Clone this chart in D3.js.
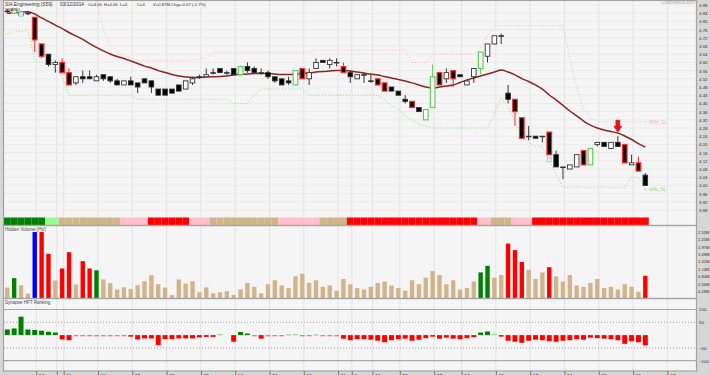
<!DOCTYPE html>
<html>
<head>
<meta charset="utf-8">
<script src="https://cdn.jsdelivr.net/npm/d3@7"></script>
<style>
	body { margin: 0; background: #d6d6d6; }
	svg { display: block; font-family: 'Liberation Sans', Arial, sans-serif; }
</style>
</head>
<body>
<div id="chart"></div>
<script>
let width = 710
let height = 375

// daily prices, SIA Engineering (S59)
let opens = [4.85,4.84,4.84,4.84,4.82,4.69,4.64,4.59,4.60,4.55,4.50,4.53,4.53,4.51,4.54,4.53,4.51,4.49,4.51,4.50,
	4.52,4.51,4.47,4.47,4.47,4.49,4.47,4.50,4.53,4.53,4.55,4.57,4.55,4.57,4.54,4.58,4.57,4.55,4.55,4.53,
	4.52,4.51,4.49,4.57,4.52,4.57,4.61,4.59,4.60,4.58,4.55,4.52,4.54,4.51,4.52,4.50,4.48,4.46,4.42,4.41,
	4.38,4.32,4.38,4.55,4.52,4.56,4.54,4.49,4.53,4.57,4.63,4.69,4.73,4.45,4.42,4.33,4.24,4.24,4.24,4.26,
	4.15,4.09,4.08,4.09,4.17,4.10,4.20,4.21,4.18,4.21,4.20,4.10,4.11,4.05]
let highs = [4.86,4.86,4.84,4.85,4.82,4.69,4.64,4.61,4.62,4.57,4.53,4.56,4.56,4.54,4.54,4.53,4.52,4.51,4.53,4.50,
	4.52,4.51,4.47,4.47,4.47,4.49,4.51,4.53,4.54,4.57,4.57,4.57,4.56,4.57,4.58,4.60,4.58,4.57,4.56,4.53,
	4.52,4.53,4.56,4.57,4.57,4.62,4.61,4.62,4.62,4.60,4.56,4.54,4.55,4.54,4.52,4.50,4.48,4.46,4.44,4.41,
	4.38,4.37,4.59,4.55,4.57,4.56,4.54,4.51,4.57,4.65,4.69,4.73,4.74,4.49,4.42,4.33,4.29,4.24,4.24,4.26,
	4.17,4.09,4.10,4.15,4.17,4.18,4.21,4.21,4.21,4.24,4.20,4.15,4.14,4.06]
let lows = [4.84,4.84,4.83,4.83,4.65,4.62,4.58,4.55,4.55,4.49,4.49,4.50,4.52,4.51,4.51,4.50,4.49,4.49,4.49,4.45,
	4.50,4.45,4.44,4.44,4.45,4.46,4.47,4.49,4.52,4.53,4.54,4.55,4.54,4.54,4.54,4.55,4.55,4.54,4.52,4.50,
	4.49,4.49,4.49,4.52,4.49,4.57,4.60,4.57,4.58,4.55,4.50,4.52,4.50,4.50,4.49,4.46,4.46,4.44,4.40,4.38,
	4.36,4.32,4.38,4.49,4.50,4.48,4.53,4.49,4.50,4.54,4.60,4.69,4.69,4.40,4.29,4.23,4.22,4.23,4.21,4.15,
	4.09,4.03,4.08,4.09,4.10,4.10,4.19,4.19,4.18,4.19,4.11,4.10,4.07,4.00]
let closes = [4.85,4.86,4.83,4.84,4.71,4.63,4.59,4.60,4.55,4.49,4.53,4.52,4.52,4.53,4.52,4.51,4.49,4.51,4.49,4.48,
	4.50,4.48,4.44,4.44,4.45,4.46,4.51,4.52,4.53,4.54,4.55,4.55,4.55,4.54,4.58,4.56,4.55,4.55,4.53,4.51,
	4.49,4.50,4.56,4.52,4.55,4.60,4.60,4.61,4.60,4.55,4.53,4.54,4.54,4.51,4.49,4.46,4.46,4.44,4.41,4.38,
	4.36,4.37,4.53,4.49,4.55,4.52,4.53,4.51,4.57,4.65,4.69,4.73,4.73,4.42,4.36,4.23,4.24,4.23,4.24,4.15,
	4.09,4.09,4.10,4.15,4.10,4.18,4.21,4.19,4.21,4.19,4.11,4.11,4.07,4.00]

// signal candles (coloured outline)
let bullIdx = [1, 34, 42, 61, 62, 69, 85]
let bearIdx = [4, 5, 8, 9, 43, 49, 54, 55, 59, 63, 65, 74, 75, 79, 84, 90, 92]
let arrowIdx = [89]
let markIdx = [2, 79]
let markPrice = [4.835, 4.125]

let maValues = [4.839,4.842,4.845,4.847,4.836,4.817,4.800,4.782,4.765,4.746,4.729,4.712,4.692,4.673,4.656,4.641,4.629,4.619,4.607,4.595,
	4.582,4.573,4.560,4.551,4.541,4.534,4.529,4.526,4.526,4.529,4.530,4.531,4.534,4.539,4.541,4.543,4.546,4.546,4.546,4.543,
	4.541,4.541,4.543,4.546,4.548,4.553,4.556,4.558,4.560,4.560,4.558,4.553,4.548,4.543,4.539,4.531,4.524,4.517,4.509,4.500,
	4.490,4.480,4.475,4.480,4.485,4.490,4.502,4.514,4.524,4.534,4.543,4.553,4.563,4.553,4.539,4.521,4.507,4.490,4.470,4.441,
	4.417,4.390,4.363,4.339,4.314,4.294,4.280,4.270,4.263,4.255,4.241,4.224,4.204,4.187]

let shhValues = [null,null,null,null,null,null,null,null,null,null,null,null,null,4.90,4.76,4.69,4.65,4.63,4.62,4.61,
	4.61,4.61,4.61,4.61,4.61,4.61,4.61,4.61,4.62,4.62,4.65,4.65,4.65,4.65,4.65,4.65,4.65,4.65,4.65,4.65,
	4.65,4.65,4.65,4.65,4.65,4.66,4.66,4.66,4.66,4.66,4.66,4.66,4.66,4.66,4.66,4.66,4.66,4.66,4.66,4.60,
	4.60,4.60,4.64,4.64,4.64,4.64,4.64,4.64,4.64,4.67,4.73,4.78,4.78,4.78,4.78,4.78,4.78,4.78,4.78,4.78,
	4.78,4.78,4.62,4.48,4.37,4.33,4.31,4.31,4.31,4.31,4.31,4.31,4.31,4.31]

let shlValues = [4.74,4.75,4.75,4.76,4.61,4.60,4.59,4.57,4.53,4.44,4.44,4.44,4.44,4.44,4.44,4.44,4.44,4.44,4.44,4.42,
	4.42,4.42,4.42,4.42,4.42,4.42,4.42,4.42,4.42,4.42,4.42,4.42,4.42,4.40,4.40,4.40,4.44,4.47,4.47,4.47,
	4.47,4.47,4.47,4.47,4.44,4.44,4.44,4.44,4.44,4.44,4.44,4.44,4.44,4.44,4.44,4.42,4.39,4.37,4.34,4.32,
	4.30,4.29,4.28,4.28,4.28,4.28,4.28,4.28,4.28,4.28,4.28,4.35,4.43,4.38,4.31,4.24,4.21,4.19,4.19,4.12,
	4.05,3.99,3.99,3.99,3.99,3.99,3.99,3.99,3.99,3.99,3.99,4.04,4.04,3.98]

// trend strip, run lengths per candle
let stripRuns = [['G',6],['g',2],['t',9],['p',4],['r',6],['p',3],['t',10],['p',6],['t',4],['r',19],['p',2],['t',3],['p',3],['r',17]]

// hidden volume, millions
let volumes = [0.42,0.78,0.51,0.19,2.54,2.54,1.71,0.69,1.15,1.77,0.54,1.43,1.15,1.08,0.73,0.59,0.35,0.43,0.37,0.51,
	0.66,0.89,0.55,0.42,0.13,0.73,0.57,0.66,0.24,0.43,0.20,0.24,0.28,0.14,0.35,0.60,0.45,0.20,0.55,0.70,
	0.50,0.40,0.85,0.95,0.60,0.70,0.45,0.50,0.30,0.75,0.55,0.40,0.35,0.45,0.60,0.65,0.50,0.40,0.30,0.70,
	0.55,0.80,1.05,0.90,0.55,0.70,0.35,0.40,0.65,1.00,1.25,0.80,0.90,2.10,1.85,1.40,1.10,0.75,1.00,1.20,
	0.85,0.65,0.90,0.50,0.45,0.60,0.75,0.40,0.45,0.35,0.55,0.45,0.26,0.87]
let volTypes = ['t','g','t','t','b','r','r','t','r','r','t','r','r','g','t','t','t','t','t','t',
	't','t','t','t','t','t','t','t','t','t','t','t','t','t','t','t','t','t','t','t',
	't','t','t','t','t','t','t','t','t','t','t','t','t','t','t','t','t','t','t','t',
	't','t','t','t','t','t','t','t','t','g','g','t','t','r','r','r','t','t','t','r',
	't','t','t','t','t','t','t','t','t','t','t','t','t','r']

let ranks = [22,26,72,22,20,17,13,10,-17,-20,-3,-3,-3,-3,-3,-3,-3,-3,-6,-17,
	-13,-13,-39,-16,-16,-13,-13,-13,-9,-7,-7,4,0,-26,12,6,-3,-14,-3,-3,
	-2,3,4,-3,-2,3,-2,-2,-2,-14,-20,-16,-16,-18,-22,-28,-20,-16,-14,-22,
	-18,-12,-6,-14,-10,-14,-16,-12,-8,10,14,5,-6,-22,-26,-30,-22,-18,-20,-24,
	-26,-22,-20,-16,-18,-10,-12,-14,-16,-20,-34,-24,-28,-40]

let priceTicks = [3.88,3.92,3.96,4.00,4.04,4.08,4.12,4.16,4.20,4.24,4.28,4.32,4.36,4.40,4.44,4.48,4.52,4.56,4.60,4.64,4.68,4.72,4.76,4.80,4.84,4.88]
let volTicks = [0.28,0.56,0.84,1.13,1.41,1.69,1.97,2.25,2.53]
let rankTicks = [100,50,-50,-100]
let dateTicks = [4,7,8,13,18,23,28,33,38,43,48,50,53,57,62,66,71,76,81,86,91,96]
let dateLabels = ['04','','11','18','25','02','09','16','23','30','06','Jan','13','20','27','03','10','17','24','03','10','17']

let header = ['SIA Engineering (S59)', '03/12/2014', 'O=4.05', 'H=4.06', 'L=4', 'C=4', 'V=0.87M,Chg=-0.07 (-1.7%)']
let headerX = [5, 60, 88, 104, 120, 137, 153]

let stripColors = {'G': '#008000', 'g': '#98fb98', 't': '#d2b48c', 'p': '#ffc0cb', 'r': '#ff0000'}
let volColors = {'t': '#d2b48c', 'g': '#008000', 'r': '#ff0000', 'b': '#0000ff'}

let x = d3.scaleLinear()
	.domain([0, 93])
	.range([7.3, 645.3])

let yPrice = d3.scaleLinear()
	.domain([3.88, 4.88])
	.range([210, 5])

let yVol = d3.scaleLinear()
	.domain([0, 2.53])
	.range([298.6, 232.3])

let yRank = d3.scaleLinear()
	.domain([-100, 100])
	.range([360.7, 309.5])

let svg = d3.select('#chart').append('svg')
	.attr('width', width)
	.attr('height', height)

svg.append('rect')
	.attr('width', width)
	.attr('height', height)
	.attr('fill', '#d6d6d6')

// panel frames
let frames = [[0.5, 225.5], [225.5, 298.5], [298.5, 371]]
svg.selectAll('rect.frame')
	.data(frames)
	.enter().append('rect')
	.attr('class', 'frame')
	.attr('x', 3.5)
	.attr('y', d => d[0])
	.attr('width', 693)
	.attr('height', d => d[1] - d[0])
	.attr('fill', '#f5f5f5')

let grid = svg.append('g')

grid.selectAll('line.v')
	.data(dateTicks)
	.enter().append('line')
	.attr('x1', d => x(d) + 1.5)
	.attr('x2', d => x(d) + 1.5)
	.attr('y1', 1)
	.attr('y2', 371)
	.attr('stroke', '#e3e3e3')

grid.selectAll('line.h')
	.data(priceTicks)
	.enter().append('line')
	.attr('x1', 4)
	.attr('x2', 696)
	.attr('y1', d => yPrice(d))
	.attr('y2', d => yPrice(d))
	.attr('stroke', '#ebebeb')

grid.selectAll('line.r')
	.data(rankTicks)
	.enter().append('line')
	.attr('x1', 4)
	.attr('x2', 696)
	.attr('y1', d => yRank(d))
	.attr('y2', d => yRank(d))
	.attr('stroke', d => Math.abs(d) == 100 ? '#a8a8a8' : '#8a8a8a')
	.attr('stroke-width', d => Math.abs(d) == 100 ? 1.2 : 0.8)
	.attr('stroke-dasharray', d => Math.abs(d) == 100 ? null : '1,2')

svg.append('clipPath').attr('id', 'clipMain')
	.append('rect').attr('x', 4).attr('y', 1).attr('width', 692).attr('height', 216)

let main = svg.append('g').attr('clip-path', 'url(#clipMain)')

let bandLine = d3.line()
	.defined(d => d != null)
	.x((d, i) => x(i))
	.y(d => yPrice(d))

main.append('path')
	.datum(shhValues)
	.attr('d', bandLine)
	.attr('fill', 'none')
	.attr('stroke', '#ffb3c1')
	.attr('stroke-dasharray', '1,2')

main.append('path')
	.datum(shlValues)
	.attr('d', bandLine)
	.attr('fill', 'none')
	.attr('stroke', '#8fe08f')
	.attr('stroke-dasharray', '1,2')

// band tails with labels
let tails = [[shhValues[93], 'SHH_SL', '#ffb3c1'], [shlValues[93], 'SHL_SL', '#8fe08f']]
tails.forEach(t => {
	main.append('line')
		.attr('x1', x(93)).attr('x2', x(93) + 14)
		.attr('y1', yPrice(t[0])).attr('y2', yPrice(t[0]))
		.attr('stroke', t[2]).attr('stroke-dasharray', '1,2')
	main.append('text')
		.attr('x', x(93) + 4)
		.attr('y', yPrice(t[0]) + 1.8)
		.style('font-size', '4.5px')
		.attr('fill', t[2])
		.text(t[1])
})

main.append('path')
	.datum(maValues)
	.attr('d', d3.line().x((d, i) => x(i)).y(d => yPrice(d)).curve(d3.curveMonotoneX))
	.attr('fill', 'none')
	.attr('stroke', '#8b2525')
	.attr('stroke-width', 1.5)

let candles = main.append('g')
	.selectAll('g')
	.data(d3.range(opens.length))
	.enter().append('g')

let edge = (i) => {
	if (bullIdx.includes(i)) return '#5ccf5c'
	if (bearIdx.includes(i)) return '#ff2a2a'
	return '#333'
}

candles.append('line')
	.attr('x1', i => x(i))
	.attr('x2', i => x(i))
	.attr('y1', i => yPrice(highs[i]))
	.attr('y2', i => yPrice(lows[i]))
	.attr('stroke', edge)

candles.append('rect')
	.attr('x', i => x(i) - 2.3)
	.attr('width', 4.6)
	.attr('y', i => yPrice(Math.max(opens[i], closes[i])))
	.attr('height', i => Math.max(Math.abs(yPrice(opens[i]) - yPrice(closes[i])), 0.6))
	.attr('fill', i => closes[i] > opens[i] ? '#fff' : (closes[i] < opens[i] ? '#000' : '#333'))
	.attr('stroke', edge)
	.attr('stroke-width', i => (bullIdx.includes(i) || bearIdx.includes(i)) ? 1.2 : 0.9)

main.selectAll('rect.mark')
	.data(markIdx)
	.enter().append('rect')
	.attr('x', d => x(d) - 2)
	.attr('y', (d, k) => yPrice(markPrice[k]) - 2)
	.attr('width', 4)
	.attr('height', 4)
	.attr('fill', '#e6f4f8')
	.attr('stroke', '#9fd0de')

main.selectAll('path.arrow')
	.data(arrowIdx)
	.enter().append('path')
	.attr('d', d => {
		let cx = x(d)
		let tip = yPrice(highs[d]) - 4
		return `M${cx - 2},${tip - 12}L${cx + 2},${tip - 12}L${cx + 2},${tip - 6}L${cx + 4},${tip - 6}L${cx},${tip}L${cx - 4},${tip - 6}L${cx - 2},${tip - 6}Z`
	})
	.attr('fill', '#e8141b')
	.attr('stroke', '#a00')
	.attr('stroke-width', 0.5)

// trend strip
let stripCats = []
stripRuns.forEach(r => { for (let k = 0; k < r[1]; k++) stripCats.push(r[0]) })

svg.append('g').selectAll('rect')
	.data(stripCats)
	.enter().append('rect')
	.attr('x', (d, i) => x(i) - 3.43)
	.attr('width', 6.9)
	.attr('y', 217.5)
	.attr('height', 7.5)
	.attr('fill', d => stripColors[d])

// volume
svg.append('g').selectAll('rect')
	.data(volumes)
	.enter().append('rect')
	.attr('x', (d, i) => x(i) - 2.2)
	.attr('width', 4.4)
	.attr('y', d => yVol(d))
	.attr('height', d => yVol(0) - yVol(d))
	.attr('fill', (d, i) => volColors[volTypes[i]])

// ranking
svg.append('g').selectAll('rect')
	.data(ranks)
	.enter().append('rect')
	.attr('x', (d, i) => x(i) - 2.5)
	.attr('width', 5)
	.attr('y', d => d > 0 ? yRank(d) : yRank(0))
	.attr('height', d => Math.max(Math.abs(yRank(d) - yRank(0)), d == 0 ? 0 : 1.2))
	.attr('fill', d => d > 0 ? (d < 6 ? '#8fdc8f' : '#008000') : (d > -5 ? '#ff6b6b' : '#ff0000'))

// frame borders on top
svg.selectAll('rect.border')
	.data(frames)
	.enter().append('rect')
	.attr('x', 3.5)
	.attr('y', d => d[0])
	.attr('width', 693)
	.attr('height', d => d[1] - d[0])
	.attr('fill', 'none')
	.attr('stroke', '#a3a3a3')
	.attr('stroke-width', 1.2)

// axes
let priceAxis = svg.append('g')
	.attr('transform', 'translate(697,0)')
	.call(d3.axisRight(yPrice).tickValues(priceTicks).tickSize(0).tickPadding(2).tickFormat(d3.format('.2f')))
let volAxis = svg.append('g')
	.attr('transform', 'translate(697,0)')
	.call(d3.axisRight(yVol).tickValues(volTicks).tickSize(0).tickPadding(1).tickFormat(d => d.toFixed(2) + 'M'))
let rankAxis = svg.append('g')
	.attr('transform', 'translate(697,0)')
	.call(d3.axisRight(yRank).tickValues(rankTicks).tickSize(0).tickPadding(2))
let dateAxis = svg.append('g')
	.attr('transform', 'translate(1.5,371)')
	.call(d3.axisBottom(x).tickValues(dateTicks).tickSize(4).tickPadding(-1).tickFormat((d, i) => dateLabels[i]))

;[priceAxis, volAxis, rankAxis, dateAxis].forEach(a => {
	a.select('.domain').remove()
	a.selectAll('text').attr('fill', '#333').style('font-size', '4.4px').style('font-family', "'Liberation Sans', Arial, sans-serif")
	a.selectAll('line').attr('stroke', '#777')
})
volAxis.selectAll('text').style('font-size', '4.1px')
dateAxis.selectAll('text').attr('text-anchor', 'start').attr('x', 2).style('font-size', '5px')

// header texts
svg.selectAll('text.head')
	.data(header)
	.enter().append('text')
	.attr('x', (d, i) => headerX[i])
	.attr('y', 5.5)
	.style('font-size', (d, i) => i < 2 ? '4.8px' : '4.2px')
	.attr('fill', '#333')
	.text(d => d)

svg.append('text')
	.attr('x', 5).attr('y', 10.5)
	.style('font-size', '3.8px')
	.attr('fill', '#7a1f1f')
	.text('SMA(20)')

svg.append('text')
	.attr('x', 695).attr('y', 4)
	.attr('text-anchor', 'end')
	.style('font-size', '4.5px')
	.attr('fill', '#aaa')
	.text('ChartNexus.com')

svg.append('text')
	.attr('x', 5).attr('y', 231)
	.style('font-size', '4.5px')
	.attr('fill', '#444')
	.text('Hidden Volume (HV)')

svg.append('text')
	.attr('x', 5).attr('y', 304)
	.style('font-size', '4.5px')
	.attr('fill', '#444')
	.text('Synapse HFT Ranking')
</script>
</body>
</html>
